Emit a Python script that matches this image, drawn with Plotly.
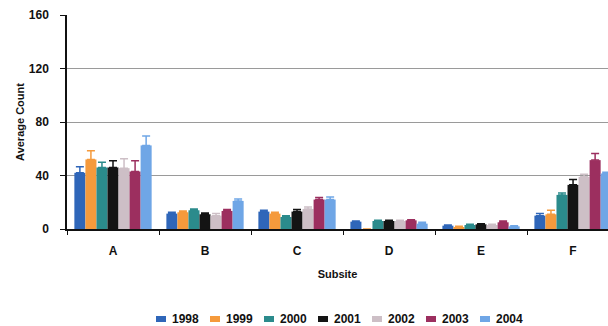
import plotly.graph_objects as go

subsites = ["A", "B", "C", "D", "E", "F"]
years = ["1998", "1999", "2000", "2001", "2002", "2003", "2004"]

# Average count per subsite for each year
counts = {
    "1998": [42, 11.5, 13, 5.5, 2.5, 10],
    "1999": [52, 12.5, 11.5, 0, 1.5, 11],
    "2000": [46, 14, 9, 6, 3, 25.5],
    "2001": [46, 11, 13, 6, 3.5, 33],
    "2002": [45.5, 10, 15, 6, 3, 39],
    "2003": [43, 13.5, 22, 6.5, 5, 51.5],
    "2004": [62.5, 21, 22, 4, 2, 41.5],
}

# Upper error bar lengths
errors = {
    "1998": [4.5, 1, 1, 0.5, 0.5, 1.5],
    "1999": [6.5, 1, 1, 0, 0.5, 3],
    "2000": [4, 1, 1, 0.5, 0.5, 1.5],
    "2001": [5, 1, 1.5, 0.5, 0.5, 4],
    "2002": [7, 1.5, 1.5, 0.5, 0.5, 2],
    "2003": [8, 1, 1.5, 0.5, 1, 5],
    "2004": [7, 1.5, 2, 1, 0.5, 1],
}

colors = {
    "1998": "#2f66b9",
    "1999": "#f59a3c",
    "2000": "#2b8b8c",
    "2001": "#141414",
    "2002": "#cdbfc6",
    "2003": "#9c2f5f",
    "2004": "#6fa6e6",
}

fig = go.Figure()
for y in years:
    fig.add_trace(go.Bar(
        name=y,
        x=subsites,
        y=counts[y],
        showlegend=False,
        marker=dict(color=colors[y], line=dict(width=0)),
        error_y=dict(
            type="data",
            array=errors[y],
            arrayminus=[0] * len(subsites),
            symmetric=False,
            color=colors[y],
            thickness=1.5,
            width=4,
        ),
    ))

font_family = "Liberation Sans, Arial, sans-serif"

# Compact horizontal key below the axis title: small swatch + year label
W, H = 608, 326
ML, MR, MT, MB = 67, 0, 15, 97
pw, ph = W - ML - MR, H - MT - MB


def px_to_paper_x(px):
    return (px - ML) / pw


def px_to_paper_y(py):
    return (H - MB - py) / ph


key_start, key_step, key_y = 156, 54, 319
for i, y in enumerate(years):
    x0 = key_start + i * key_step
    fig.add_shape(
        type="rect", xref="paper", yref="paper",
        x0=px_to_paper_x(x0), x1=px_to_paper_x(x0 + 10),
        y0=px_to_paper_y(key_y + 3), y1=px_to_paper_y(key_y - 3),
        fillcolor=colors[y], line=dict(width=0),
    )
    fig.add_annotation(
        x=px_to_paper_x(x0 + 14), y=px_to_paper_y(key_y),
        xref="paper", yref="paper", xanchor="left", yanchor="middle",
        text=y, showarrow=False,
        font=dict(size=12, color="#111111", weight="bold"),
    )

fig.update_layout(
    width=W,
    height=H,
    margin=dict(l=ML, r=MR, t=MT, b=MB, autoexpand=False),
    paper_bgcolor="white",
    plot_bgcolor="white",
    barmode="group",
    bargap=0.16,
    bargroupgap=0.0,
    font=dict(family=font_family, size=12, color="#111111"),
    showlegend=False,
    xaxis=dict(
        type="category",
        range=[-0.5, 5.38],
        tickson="boundaries",
        ticks="outside",
        ticklen=4,
        tickcolor="#111111",
        ticklabelstandoff=10,
        showline=True,
        linecolor="#111111",
        linewidth=1.5,
        showgrid=False,
        tickfont=dict(size=12, weight="bold"),
        title=dict(text="Subsite", font=dict(size=11, weight="bold"), standoff=13),
    ),
    yaxis=dict(
        range=[0, 160],
        tickvals=[0, 40, 80, 120, 160],
        ticks="outside",
        ticklen=5,
        tickcolor="#111111",
        ticklabelstandoff=9,
        showline=True,
        linecolor="#111111",
        linewidth=1.5,
        showgrid=True,
        gridcolor="#9a9a9a",
        gridwidth=1,
        zeroline=False,
        tickfont=dict(size=12, weight="bold"),
        title=dict(text="Average Count", font=dict(size=11, weight="bold"), standoff=2),
    ),
)

fig.write_html("out.html")
